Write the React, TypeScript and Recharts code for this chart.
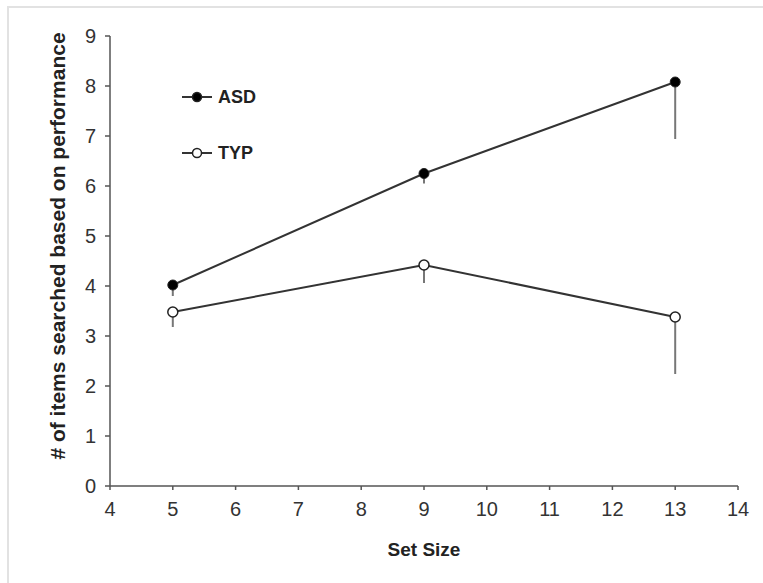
import React from 'react';
import { LineChart, Line, XAxis, YAxis, ErrorBar, Label } from 'recharts';

const setSizes = [5, 9, 13];
const asdMeans = [4.02, 6.25, 8.08];
const asdErrLow = [0.22, 0.2, 1.14];
const typMeans = [3.48, 4.42, 3.38];
const typErrLow = [0.3, 0.36, 1.14];
const xTicks = [4, 5, 6, 7, 8, 9, 10, 11, 12, 13, 14];
const yTicks = [0, 1, 2, 3, 4, 5, 6, 7, 8, 9];
const seriesNames = ['ASD', 'TYP'];
const yLabel = '# of items searched based on performance';

const data = setSizes.map((s, i) => ({
  size: s,
  asd: asdMeans[i],
  asdErr: [asdErrLow[i], 0],
  typ: typMeans[i],
  typErr: [typErrLow[i], 0],
}));

const FONT = 'Liberation Sans, Arial, Helvetica, sans-serif';

const LegendBox = () => (
  <div style={{ position: 'absolute', left: 180, top: 85, fontFamily: FONT }}>
    {seriesNames.map((name, i) => (
      <div key={name} style={{ display: 'flex', alignItems: 'center', height: 24, marginBottom: i === 0 ? 32 : 0 }}>
        <svg width={36} height={16}>
          <line x1={2} y1={8} x2={32} y2={8} stroke="#333" strokeWidth={2} />
          <circle cx={17} cy={8} r={4.5} fill={i === 0 ? '#000' : '#fff'} stroke="#222" strokeWidth={1.5} />
        </svg>
        <span style={{ fontWeight: 'bold', fontSize: 18, color: '#222', marginLeft: 2 }}>{name}</span>
      </div>
    ))}
  </div>
);

const YLabelContent = () => (
  <text
    x={57}
    y={246}
    transform="rotate(-90 57 246)"
    textAnchor="middle"
    dominantBaseline="central"
    style={{ fill: '#222', fontSize: 21, fontWeight: 'bold', fontFamily: FONT }}
  >
    {yLabel}
  </text>
);

export default function App() {
  return (
    <div style={{ position: 'absolute', left: 0, top: 0, width: 763, height: 583, background: '#fff', overflow: 'hidden' }}>
      <div style={{ position: 'absolute', left: 7, top: 6, width: 800, height: 600, borderTop: '2px solid #e2e2e2', borderLeft: '2px solid #e2e2e2' }} />
      <div style={{ position: 'absolute', left: 0, top: 0 }}>
        <LineChart width={763} height={583} data={data} margin={{ top: 36, right: 25, bottom: 0, left: 50 }}>
          <XAxis
            dataKey="size"
            type="number"
            domain={[4, 14]}
            ticks={xTicks}
            height={97}
            stroke="#555"
            strokeWidth={1.5}
            tickSize={4}
            tickMargin={12}
            tick={{ fill: '#333', fontSize: 20, fontFamily: FONT }}
            interval={0}
          >
            <Label value="Set Size" position="insideTop" offset={57} style={{ fill: '#222', fontSize: 19, fontWeight: 'bold', fontFamily: FONT }} />
          </XAxis>
          <YAxis
            type="number"
            domain={[0, 9]}
            ticks={yTicks}
            width={60}
            stroke="#555"
            strokeWidth={1.5}
            tickSize={5}
            tickMargin={9}
            tick={{ fill: '#333', fontSize: 20, fontFamily: FONT }}
            interval={0}
          >
            <Label content={<YLabelContent />} />
          </YAxis>
          <Line
            dataKey="asd"
            name="ASD"
            stroke="#333"
            strokeWidth={2}
            isAnimationActive={false}
            dot={{ r: 5, fill: '#000', stroke: '#222', strokeWidth: 1 }}
          >
            <ErrorBar dataKey="asdErr" width={0} stroke="#777" strokeWidth={2} direction="y" />
          </Line>
          <Line
            dataKey="typ"
            name="TYP"
            stroke="#333"
            strokeWidth={2}
            isAnimationActive={false}
            dot={{ r: 5, fill: '#fff', stroke: '#222', strokeWidth: 1.5 }}
          >
            <ErrorBar dataKey="typErr" width={0} stroke="#777" strokeWidth={2} direction="y" />
          </Line>
        </LineChart>
      </div>
      <LegendBox />
    </div>
  );
}
